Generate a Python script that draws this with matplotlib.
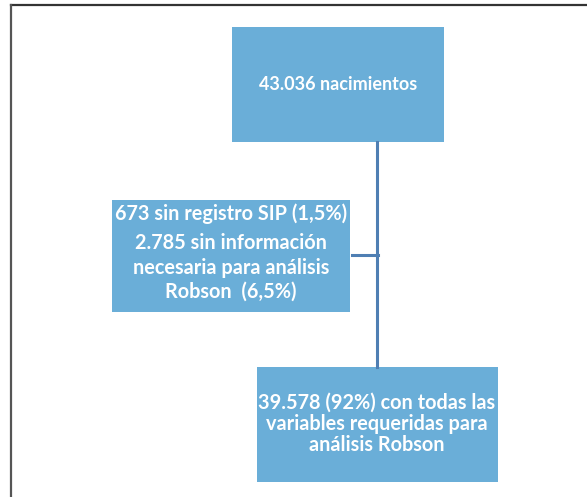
import matplotlib.pyplot as plt
from matplotlib.patches import Rectangle

plt.rcParams['font.family'] = ['Lato', 'DejaVu Sans']

# textos de las cajas del diagrama de flujo
total_txt = ['43.036 nacimientos']
excluidos_txt = ['673 sin registro SIP (1,5%)',
                 '2.785 sin información',
                 'necesaria para análisis',
                 'Robson  (6,5%)']
incluidos_txt = ['39.578 (92%) con todas las',
                 'variables requeridas para',
                 'análisis Robson']

caja = '#6aaed8'
linea = '#4f7fb3'

fig = plt.figure(figsize=(5.87, 4.97), dpi=100)
ax = fig.add_axes([0, 0, 1, 1])
ax.set_xlim(0, 587)
ax.set_ylim(497, 0)
ax.axis('off')

# marco exterior (solo arriba e izquierda visibles)
ax.plot([11, 587], [5, 5], color='#333333', lw=1.6)
ax.plot([11, 11], [5, 497], color='#555555', lw=1.6)

# conectores
ax.plot([377, 377], [142, 367], color=linea, lw=2.2)
ax.plot([352, 378], [255, 255], color=linea, lw=2.2)

# cajas (x, y, ancho, alto)
ax.add_patch(Rectangle((232, 27), 212, 115, color=caja, lw=0))
ax.add_patch(Rectangle((112, 200), 238, 112, color=caja, lw=0))
ax.add_patch(Rectangle((257, 367), 241, 115, color=caja, lw=0))


def lineas(textos, xc, ys, size):
    for t, y in zip(textos, ys):
        ax.text(xc, y, t, ha='center', va='center', color='white',
                fontsize=size, fontweight='bold')


lineas(total_txt, 338, [84], 13)
lineas(excluidos_txt, 231, [214, 243, 268, 292], 14.3)
lineas(incluidos_txt, 377, [403, 424, 445], 14.3)

fig.savefig('out.png', dpi=100)
